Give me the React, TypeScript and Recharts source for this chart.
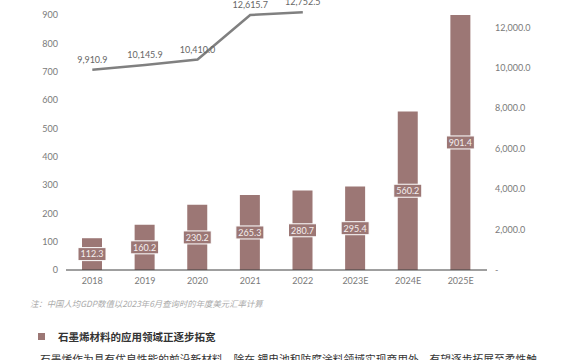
import React from 'react';
import { ComposedChart, Bar, Line, XAxis, YAxis, LabelList } from 'recharts';

const years = ['2018', '2019', '2020', '2021', '2022', '2023E', '2024E', '2025E'];
const marketSize = [112.3, 160.2, 230.2, 265.3, 280.7, 295.4, 560.2, 901.4];
const gdpPerCapita = [9910.9, 10145.9, 10410.0, 12615.7, 12752.5, null, null, null];
const leftTicks = [0, 100, 200, 300, 400, 500, 600, 700, 800, 900];
const rightTicks = [0, 2000, 4000, 6000, 8000, 10000, 12000];

const data = years.map((year, i) => ({ year, size: marketSize[i], gdp: gdpPerCapita[i] }));

const BAR_COLOR = '#9c7775';
const TICK_COLOR = '#7a7a7a';
const FONT = 'Lato, "Noto Sans", "Noto Sans CJK SC", sans-serif';

const fmtRight = (v: number) => (v === 0 ? '-' : v.toLocaleString('en-US', { minimumFractionDigits: 1, maximumFractionDigits: 1 }));

const BarTag = (props: any) => {
  const { x, y, width, height, value } = props;
  const cx = x + width / 2;
  const cy = y + height / 2;
  return (
    <g>
      <rect x={cx - 14} y={cy - 6.5} width={28} height={13} fill={BAR_COLOR} stroke="#ffffff" strokeWidth={1} />
      <text x={cx} y={cy} dy={3.3} textAnchor="middle" fontSize={9} fill="#f4eeee" fontFamily={FONT}>
        {value.toFixed(1)}
      </text>
    </g>
  );
};

const LineTag = (props: any) => {
  const { x, y, value } = props;
  if (value == null) return null;
  return (
    <text x={x} y={y - 7} textAnchor="middle" fontSize={9} fill="#666666" fontFamily={FONT}>
      {fmtRight(value)}
    </text>
  );
};

export default function App() {
  return (
    <div style={{ position: 'absolute', left: 0, top: 0, width: 570, height: 360, overflow: 'hidden', background: '#fff', fontFamily: FONT }}>
      <div style={{ position: 'absolute', left: 0, top: -33 }}>
        <ComposedChart width={570} height={340} data={data} margin={{ top: 20, right: 25, left: 16, bottom: 12 }}>
          <XAxis
            dataKey="year"
            height={25}
            tickLine={false}
            axisLine={{ stroke: '#404040', strokeWidth: 1 }}
            tick={{ fill: TICK_COLOR, fontSize: 9, fontFamily: FONT }}
          />
          <YAxis
            yAxisId="left"
            width={50}
            domain={[0, 1000]}
            ticks={leftTicks}
            interval={0}
            axisLine={false}
            tickLine={false}
            tick={{ fill: TICK_COLOR, fontSize: 9, fontFamily: FONT }}
          />
          <YAxis
            yAxisId="right"
            orientation="right"
            width={58}
            domain={[0, 14000]}
            ticks={rightTicks}
            interval={0}
            axisLine={false}
            tickLine={false}
            tickFormatter={fmtRight}
            tick={{ fill: TICK_COLOR, fontSize: 9, fontFamily: FONT, textAnchor: 'start' }}
          />
          <Bar yAxisId="left" dataKey="size" fill={BAR_COLOR} barSize={20} isAnimationActive={false}>
            <LabelList dataKey="size" content={BarTag} />
          </Bar>
          <Line
            yAxisId="right"
            dataKey="gdp"
            type="linear"
            stroke="#808080"
            strokeWidth={2.5}
            dot={false}
            activeDot={false}
            connectNulls={false}
            isAnimationActive={false}
          >
            <LabelList dataKey="gdp" content={LineTag} />
          </Line>
        </ComposedChart>
      </div>
      <div style={{ position: 'absolute', left: 30, top: 297, fontSize: 8.4, fontStyle: 'italic', color: '#ababab', whiteSpace: 'nowrap', fontFamily: '"Noto Sans CJK SC", sans-serif' }}>
        注：中国人均GDP数值以2023年6月查询时的年度美元汇率计算
      </div>
      <div style={{ position: 'absolute', left: 38, top: 333, width: 7, height: 7, background: BAR_COLOR }} />
      <div style={{ position: 'absolute', left: 58, top: 329, fontSize: 10.5, fontWeight: 700, color: '#333', whiteSpace: 'nowrap', fontFamily: '"Noto Sans CJK SC", sans-serif' }}>
        石墨烯材料的应用领域正逐步拓宽
      </div>
      <div style={{ position: 'absolute', left: 40, top: 351, fontSize: 10.75, color: '#333', whiteSpace: 'nowrap', fontFamily: '"Noto Sans CJK SC", sans-serif' }}>
        石墨烯作为具有优良性能的前沿新材料，除在 锂电池和防腐涂料领域实现商用外，有望逐步拓展至柔性触
      </div>
    </div>
  );
}
